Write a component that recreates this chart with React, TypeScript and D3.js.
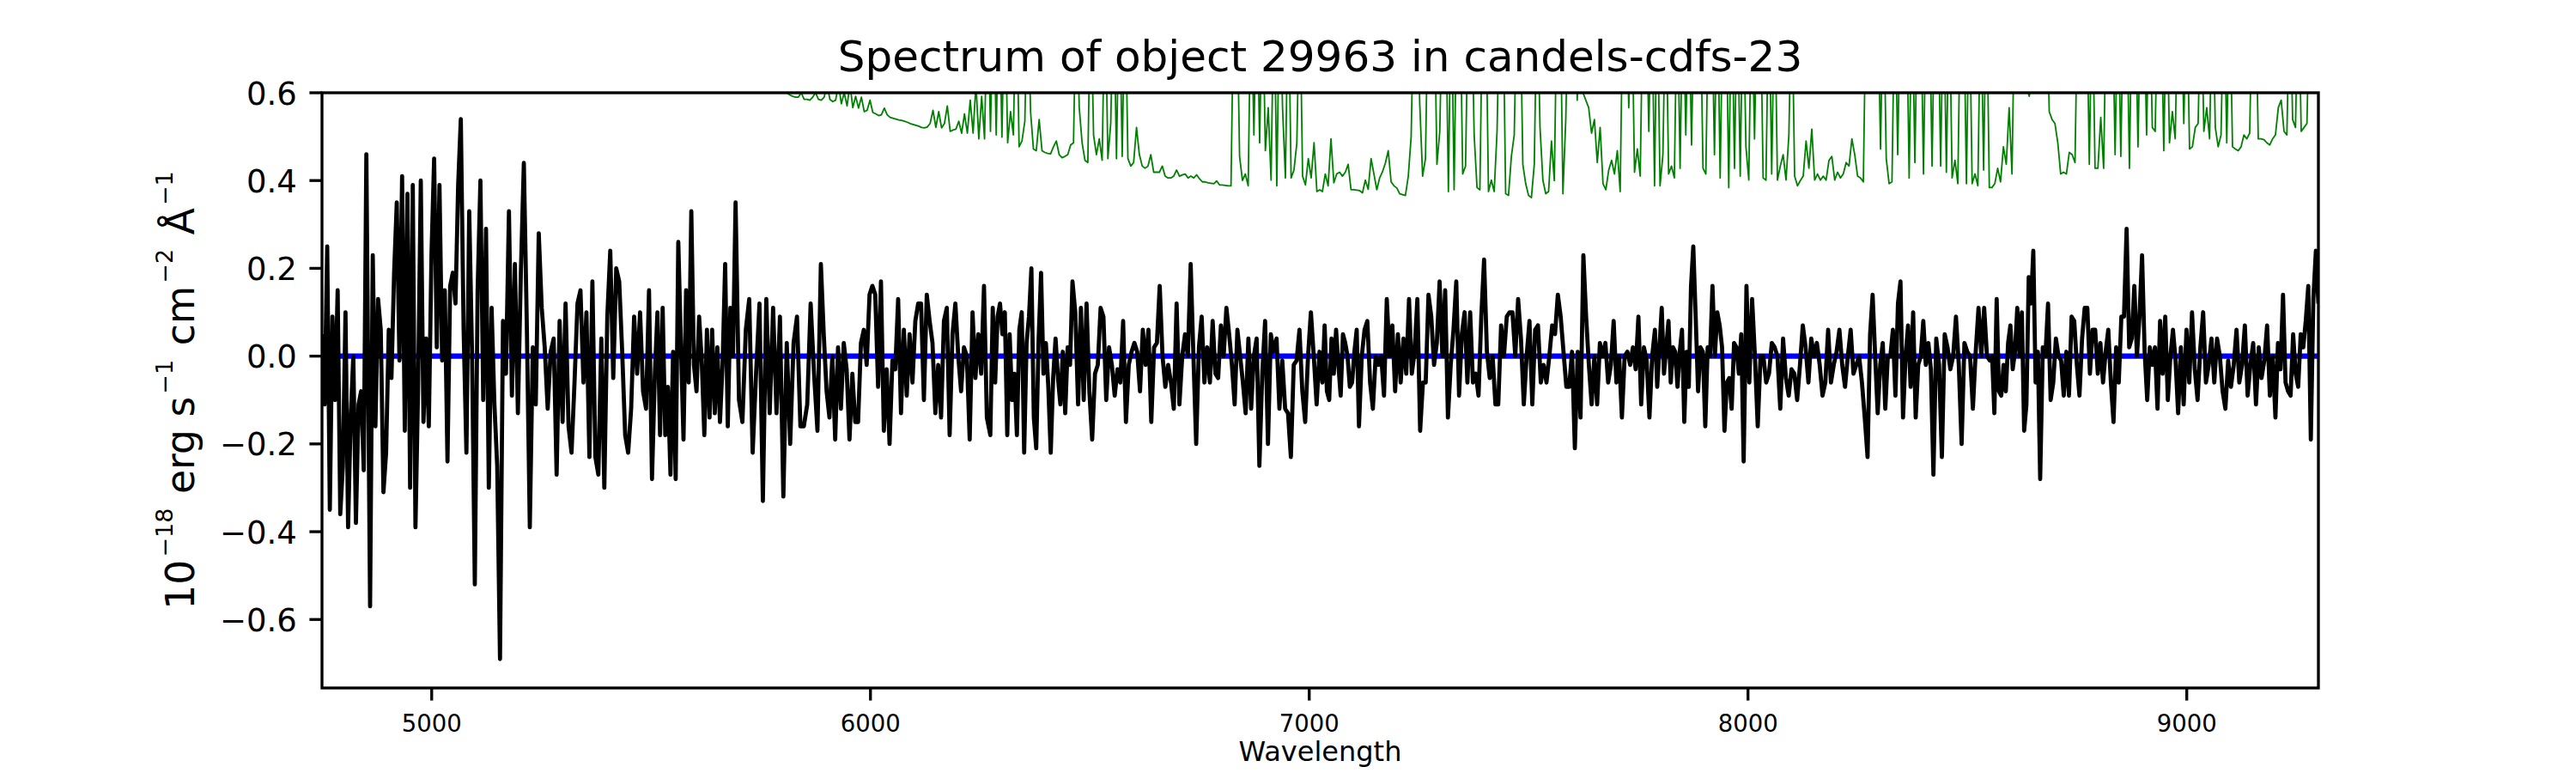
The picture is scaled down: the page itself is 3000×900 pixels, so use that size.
import React from 'react';
import * as d3 from 'd3';

// ---- Data (wavelength in Angstrom, flux in 1e-18 erg/s/cm2/A) ----
const chartTitle = 'Spectrum of object 29963 in candels-cdfs-23';
const xLabel = 'Wavelength';

const xTicks = [5000, 6000, 7000, 8000, 9000];
const yTicks = [-0.6, -0.4, -0.2, 0.0, 0.2, 0.4, 0.6];

const xDomain = [4750, 9300];
const yDomain = [-0.756, 0.6];

// Model continuum (blue)
const modelWave = [4750, 9300];
const modelFlux = [0, 0];

// Observed flux (black), read in wavelength chunks.
// Wavelength anchors per chunk: [sample index, wavelength] read at identifiable features.
const fluxKnots1 = [[0, 4750], [17, 4851.1], [18, 4859.6], [52, 5066.4], [66, 5155.7], [117, 5502.1]];
const fluxKnots2 = [[0, 5508.6], [31, 5692.6], [56, 5887.0], [114, 6265.3]];
const fluxKnots3 = [[0, 6273.2], [34, 6460.4], [76, 6729.8], [101, 6886.4], [122, 7023.4]];
const fluxKnots4 = [[0, 7029.9], [16, 7113.4], [61, 7398.5], [96, 7624.8], [122, 7787.9]];
const fluxKnots5 = [[0, 7793.1], [16, 7875.3], [37, 7990.1], [81, 8272.5], [107, 8422.6], [127, 8551.1]];
const fluxKnots6 = [[0, 8556.3], [21, 8665.9], [54, 8862.9], [74, 8980.3], [109, 9202.1], [126, 9300]];

const flux1 = [
  0.05, -0.11, 0.25, -0.35, 0.09, -0.10, 0.15, -0.36, -0.25, 0.10,
  -0.39, -0.14, 0.00, -0.38, -0.11, -0.08, -0.26, 0.46, -0.57, 0.23,
  -0.16, 0.13, 0.06, -0.31, -0.22, 0.06, -0.05, 0.19, 0.35, -0.01,
  0.41, -0.17, 0.37, -0.30, 0.39, -0.39, -0.07, 0.40, -0.15, 0.04,
  -0.16, 0.23, 0.45, 0.02, 0.39, -0.01, 0.15, -0.24, 0.16, 0.19,
  0.12, 0.39, 0.54, 0.06, -0.22, 0.33, 0.01, -0.52, 0.15, 0.40,
  -0.10, 0.29, -0.30, 0.11, -0.11, -0.25, -0.69, 0.08, -0.04, 0.33,
  -0.09, 0.21, -0.13, 0.19, 0.44, 0.07, -0.39, 0.02, -0.11, 0.28,
  0.11, 0.02, -0.12, 0.01, 0.04, -0.27, 0.08, -0.15, 0.12, -0.16,
  -0.22, -0.06, 0.12, 0.15, -0.06, 0.10, -0.23, 0.17, -0.23, -0.27,
  0.04, -0.30, 0.09, 0.24, -0.05, 0.20, 0.17, 0.01, -0.18, -0.22,
  -0.12, 0.09, -0.04, 0.10, -0.08, -0.12, 0.15, -0.28,
];

const flux2 = [
  -0.04, 0.10, -0.18, 0.11, -0.18, -0.07, -0.27, 0.01, -0.28, 0.26,
  0.03, -0.19, 0.15, -0.06, 0.33, -0.02, -0.08, 0.09, -0.01, -0.18,
  0.06, -0.14, 0.06, -0.13, 0.02, -0.15, -0.02, 0.21, -0.16, 0.11,
  0.00, 0.35, -0.10, -0.15, 0.06, 0.13, -0.22, -0.04, 0.12, -0.33,
  0.13, -0.13, 0.11, -0.13, 0.09, -0.32, 0.03, -0.20, 0.03, 0.09,
  -0.16, -0.16, -0.11, 0.12, -0.04, -0.17, 0.21, 0.05, -0.08, -0.14,
  0.00, -0.19, 0.02, -0.12, 0.03, -0.03, -0.19, -0.04, -0.15, -0.15,
  0.03, 0.06, -0.02, 0.14, 0.16, 0.14, -0.07, 0.17, -0.17, -0.03,
  -0.20, -0.01, -0.03, 0.13, -0.13, 0.06, -0.09, 0.05, -0.06, 0.08,
  0.12, 0.12, -0.10, 0.14, 0.08, 0.03, -0.13, -0.02, -0.14, 0.08,
  0.11, -0.18, 0.05, 0.12, 0.00, -0.08, 0.02, 0.00, -0.19, 0.10,
  -0.05, 0.05, -0.04, 0.16, -0.14,
];

const flux3 = [
  -0.18, 0.11, -0.06, 0.09, 0.12, 0.05, 0.10, -0.18, 0.05, -0.10,
  -0.04, -0.18, 0.06, 0.10, -0.22, 0.03, 0.09, 0.20, -0.14, -0.21,
  0.04, 0.19, -0.04, 0.03, -0.07, -0.22, -0.05, 0.04, -0.05, -0.11,
  0.01, -0.13, 0.02, -0.02, 0.17, 0.10, -0.11, 0.11, -0.10, 0.12,
  -0.08, -0.19, -0.04, -0.02, 0.11, 0.09, -0.10, 0.02, -0.02, -0.09,
  -0.03, -0.06, 0.08, -0.15, -0.02, 0.01, 0.03, 0.01, -0.08, 0.06,
  -0.02, 0.06, -0.15, 0.02, 0.03, 0.16, 0.00, -0.07, -0.02, -0.06,
  -0.12, 0.12, -0.11, 0.00, 0.05, 0.00, 0.21, 0.00, -0.20, 0.02,
  0.09, -0.06, 0.02, -0.06, 0.08, -0.04, -0.05, 0.07, 0.00, 0.11,
  0.05, -0.02, -0.11, 0.06, 0.00, -0.06, -0.13, 0.04, -0.12, 0.00,
  0.04, -0.25, -0.04, 0.08, -0.20, 0.05, 0.01, 0.04, -0.12, -0.01,
  -0.12, -0.13, -0.23, -0.02, -0.01, 0.06, -0.08, -0.15, 0.00, 0.10,
  0.00, -0.11, 0.01,
];

const flux4 = [
  -0.06, 0.07, -0.08, -0.10, 0.04, -0.04, 0.06, -0.02, -0.09, 0.05,
  0.03, 0.00, -0.07, -0.06, 0.01, 0.06, -0.16, 0.00, 0.06, 0.08,
  -0.06, -0.12, 0.00, -0.02, 0.00, -0.09, 0.13, 0.00, 0.07, -0.08,
  0.05, -0.06, 0.04, -0.04, 0.13, -0.04, 0.01, 0.13, -0.17, -0.06,
  -0.06, 0.14, 0.09, -0.02, 0.03, 0.17, 0.00, 0.15, -0.14, -0.02,
  0.06, 0.17, -0.09, 0.05, 0.10, -0.06, 0.10, -0.06, -0.04, -0.09,
  0.09, 0.22, 0.01, -0.05, 0.00, -0.11, -0.11, 0.07, 0.00, 0.09,
  0.10, 0.10, 0.00, 0.13, 0.04, -0.11, 0.00, 0.08, -0.11, 0.06,
  0.07, -0.06, -0.02, -0.06, 0.00, 0.07, 0.05, 0.14, 0.09, 0.01,
  -0.07, -0.07, 0.01, -0.21, 0.01, -0.14, 0.23, 0.09, -0.02, -0.11,
  0.00, -0.11, 0.03, 0.00, 0.03, -0.06, -0.02, 0.08, -0.06, 0.00,
  -0.14, 0.00, 0.01, -0.02, 0.02, -0.03, 0.09, -0.11, 0.02, -0.01,
  -0.14, 0.00, 0.06,
];

const flux5 = [
  -0.07, 0.02, 0.11, -0.04, 0.02, 0.08, -0.06, 0.02, 0.01, -0.07,
  0.01, 0.06, -0.15, 0.01, -0.07, 0.16, 0.25, 0.09, -0.08, 0.02,
  0.01, -0.16, 0.02, 0.00, 0.16, 0.00, 0.10, 0.07, 0.02, -0.17,
  -0.06, -0.05, -0.12, 0.03, 0.02, -0.04, 0.05, -0.24, 0.16, -0.06,
  0.13, 0.00, -0.16, 0.00, 0.00, -0.06, -0.04, 0.03, 0.02, 0.00,
  -0.12, 0.04, -0.05, -0.09, -0.03, -0.04, -0.10, -0.02, 0.07, 0.02,
  -0.06, 0.04, 0.00, 0.03, -0.02, -0.09, -0.06, 0.06, -0.06, -0.02,
  0.01, 0.06, -0.02, -0.07, 0.00, 0.06, -0.04, -0.02, 0.00, -0.06,
  -0.14, -0.23, 0.05, 0.14, 0.00, -0.13, -0.02, 0.03, -0.12, 0.00,
  0.00, 0.06, -0.09, 0.12, 0.17, -0.14, 0.00, 0.07, -0.07, 0.10,
  -0.14, -0.02, 0.00, 0.08, -0.02, 0.03, -0.03, -0.27, 0.04, -0.02,
  -0.23, 0.05, 0.02, -0.03, 0.00, 0.09, -0.02, -0.20, 0.03, 0.01,
  0.00, -0.12, 0.01, 0.11, 0.00, 0.11, 0.00, -0.01,
];

const flux6 = [
  0.00, -0.13, 0.13, -0.08, -0.09, -0.02, -0.08, 0.03, 0.07, -0.03,
  0.01, 0.11, 0.00, 0.10, -0.17, -0.11, 0.18, 0.12, 0.24, -0.06,
  0.01, -0.28, 0.02, 0.00, 0.12, -0.10, -0.06, 0.04, 0.00, -0.01,
  -0.09, 0.01, -0.09, 0.09, 0.08, -0.02, -0.09, 0.04, 0.11, 0.11,
  -0.04, 0.06, 0.06, -0.04, 0.03, -0.06, 0.01, 0.06, -0.06, -0.15,
  0.02, -0.06, 0.09, 0.09, 0.29, 0.02, 0.04, 0.16, 0.00, 0.09,
  0.23, 0.01, -0.10, 0.02, -0.02, 0.02, -0.12, 0.08, -0.04, 0.09,
  -0.10, 0.00, 0.06, -0.01, -0.13, 0.02, -0.11, 0.06, -0.06, 0.10,
  -0.03, -0.10, 0.02, 0.10, -0.06, -0.02, 0.04, -0.06, 0.04, 0.00,
  -0.08, -0.12, -0.01, -0.07, -0.02, 0.06, -0.06, -0.02, 0.07, -0.09,
  -0.02, 0.03, -0.11, 0.02, -0.05, -0.01, 0.07, -0.09, 0.00, -0.14,
  0.03, -0.03, 0.14, -0.06, -0.08, -0.09, 0.05, -0.04, -0.07, 0.05,
  0.02, 0.08, 0.16, -0.19, 0.13, 0.24, 0.12,
];

// Noise / sky spectrum (green), spikes run off the top of the axes
const errRanges = [
  [5777, 6260],
  [6267, 7024],
  [7030, 7787],
  [7793, 8550],
  [8556, 9300],
];

const err1 = [
  0.64, 0.63, 0.62, 0.61, 0.605, 0.60, 0.595, 0.592, 0.59, 0.59,
  0.60, 0.585, 0.585, 0.583, 0.59, 0.60, 0.585, 0.583, 0.59, 0.62,
  0.585, 0.58, 0.583, 0.62, 0.575, 0.60, 0.57, 0.62, 0.566, 0.592,
  0.565, 0.59, 0.557, 0.56, 0.583, 0.555, 0.552, 0.548, 0.55, 0.565,
  0.55, 0.544, 0.542, 0.54, 0.538, 0.537, 0.535, 0.533, 0.530, 0.528,
  0.526, 0.524, 0.521, 0.520, 0.522, 0.53, 0.56, 0.521, 0.557, 0.52,
  0.53, 0.57, 0.512, 0.515, 0.517, 0.535, 0.508, 0.552, 0.508, 0.583,
  0.508, 0.62, 0.495, 0.592, 0.495,
];

const err2 = [
  0.85, 0.512, 0.85, 0.504, 0.85, 0.499, 0.85, 0.486, 0.557, 0.504,
  0.85, 0.477, 0.49, 0.535, 0.85, 0.557, 0.472, 0.468, 0.539, 0.468,
  0.464, 0.462, 0.461, 0.477, 0.49, 0.459, 0.452, 0.455, 0.459, 0.481,
  0.486, 0.85, 0.566, 0.486, 0.446, 0.441, 0.85, 0.504, 0.459, 0.495,
  0.446, 0.85, 0.450, 0.53, 0.85, 0.450, 0.85, 0.455, 0.85, 0.450,
  0.433, 0.441, 0.521, 0.459, 0.433, 0.428, 0.433, 0.459, 0.419, 0.419,
  0.419, 0.433, 0.410, 0.406, 0.406, 0.410, 0.424, 0.410, 0.413, 0.415,
  0.406, 0.410, 0.406, 0.413, 0.404, 0.397, 0.397, 0.395, 0.394, 0.393,
  0.399, 0.390, 0.390, 0.389, 0.388, 0.388, 0.85, 0.85, 0.455, 0.40,
  0.415, 0.388, 0.85, 0.504, 0.85, 0.486, 0.85, 0.468, 0.566, 0.401,
  0.85, 0.388, 0.85, 0.566, 0.406, 0.85, 0.406, 0.424, 0.486, 0.85,
  0.410, 0.390, 0.45, 0.406, 0.486, 0.375, 0.379,
];

const err3 = [
  0.375, 0.415, 0.388, 0.495, 0.395, 0.415, 0.419, 0.410, 0.419, 0.437,
  0.379, 0.379, 0.378, 0.377, 0.372, 0.401, 0.38, 0.45, 0.415, 0.379,
  0.406, 0.42, 0.44, 0.468, 0.397, 0.388, 0.383, 0.370, 0.368, 0.366,
  0.41, 0.5, 0.85, 0.85, 0.575, 0.41, 0.45, 0.85, 0.85, 0.85,
  0.437, 0.512, 0.85, 0.85, 0.375, 0.85, 0.379, 0.85, 0.85, 0.415,
  0.433, 0.85, 0.85, 0.504, 0.384, 0.379, 0.85, 0.85, 0.375, 0.401,
  0.375, 0.512, 0.85, 0.85, 0.370, 0.366, 0.455, 0.504, 0.85, 0.85,
  0.437, 0.393, 0.366, 0.361, 0.437, 0.85, 0.521, 0.401, 0.370, 0.375,
  0.490, 0.400, 0.85, 0.85, 0.370, 0.539, 0.85, 0.85, 0.85, 0.583,
  0.85, 0.60, 0.583, 0.566, 0.508, 0.539, 0.441, 0.521, 0.393, 0.379,
  0.424, 0.446, 0.415, 0.468, 0.375, 0.85, 0.85, 0.566, 0.85, 0.419,
  0.472, 0.410, 0.85, 0.85, 0.512, 0.85, 0.388,
];

const err4 = [
  0.85, 0.388, 0.459, 0.85, 0.415, 0.433, 0.406, 0.85, 0.428, 0.85,
  0.504, 0.85, 0.481, 0.85, 0.85, 0.85, 0.428, 0.415, 0.85, 0.85,
  0.459, 0.85, 0.406, 0.85, 0.85, 0.384, 0.85, 0.428, 0.85, 0.410,
  0.85, 0.477, 0.401, 0.85, 0.495, 0.85, 0.85, 0.406, 0.401, 0.85,
  0.415, 0.85, 0.401, 0.433, 0.459, 0.401, 0.504, 0.85, 0.410, 0.388,
  0.40, 0.410, 0.490, 0.428, 0.517, 0.401, 0.415, 0.401, 0.410, 0.401,
  0.446, 0.455, 0.401, 0.419, 0.406, 0.415, 0.441, 0.433, 0.495, 0.459,
  0.410, 0.406, 0.397, 0.85, 0.85, 0.85, 0.85, 0.85, 0.472, 0.85,
  0.450, 0.393, 0.397, 0.85, 0.459, 0.85, 0.85, 0.85, 0.406, 0.85,
  0.441, 0.85, 0.85, 0.415, 0.85, 0.85, 0.433, 0.85, 0.85, 0.433,
  0.85, 0.419, 0.85, 0.406, 0.446, 0.393, 0.85, 0.85, 0.393, 0.85,
  0.393, 0.415, 0.388, 0.85, 0.424, 0.85, 0.384,
];

const err5 = [
  0.384, 0.393, 0.428, 0.397, 0.477, 0.437, 0.566, 0.415, 0.85, 0.85,
  0.85, 0.85, 0.62, 0.592, 0.62, 0.85, 0.85, 0.85, 0.85, 0.85,
  0.557, 0.539, 0.530, 0.486, 0.415, 0.419, 0.415, 0.464, 0.459, 0.441,
  0.85, 0.85, 0.85, 0.85, 0.437, 0.85, 0.428, 0.428, 0.544, 0.428,
  0.85, 0.85, 0.85, 0.459, 0.85, 0.455, 0.85, 0.85, 0.428, 0.85,
  0.85, 0.477, 0.85, 0.85, 0.504, 0.85, 0.521, 0.512, 0.85, 0.85,
  0.468, 0.85, 0.486, 0.557, 0.495, 0.85, 0.85, 0.530, 0.85, 0.472,
  0.477, 0.521, 0.530, 0.85, 0.512, 0.566, 0.495, 0.85, 0.521, 0.477,
  0.504, 0.85, 0.486, 0.85, 0.477, 0.472, 0.468, 0.477, 0.504, 0.495,
  0.508, 0.85, 0.85, 0.495, 0.495, 0.493, 0.486, 0.481, 0.495, 0.504,
  0.566, 0.583, 0.512, 0.504, 0.85, 0.539, 0.521, 0.85, 0.512, 0.521,
  0.530, 0.85, 0.85, 0.60, 0.85,
];

const fluxSegments = [flux1, flux2, flux3, flux4, flux5, flux6];
const fluxKnots = [fluxKnots1, fluxKnots2, fluxKnots3, fluxKnots4, fluxKnots5, fluxKnots6];
const errSegments = [err1, err2, err3, err4, err5];

type Pt = { w: number; v: number };

// wavelength of each sample from the anchor table (piecewise linear in index)
function withKnots(values: number[], knots: number[][]): Pt[] {
  const idxToWave = d3
    .scaleLinear()
    .domain(knots.map((k) => k[0]))
    .range(knots.map((k) => k[1]));
  return values.map((v, i) => ({ w: idxToWave(i), v }));
}

function spread(values: number[], range: number[]): Pt[] {
  const [a, b] = range;
  const n = values.length;
  return values.map((v, i) => ({ w: a + ((b - a) * i) / (n - 1), v }));
}

const FONT = 'DejaVu Sans';

export default function App() {
  const W = 3000;
  const H = 900;
  const L = 375;
  const R = 2700;
  const T = 108;
  const B = 801;

  const x = d3.scaleLinear().domain(xDomain).range([L, R]);
  const y = d3.scaleLinear().domain(yDomain).range([B, T]);
  const fmt = d3.format('.1f');

  const line = d3
    .line<Pt>()
    .x((d) => x(d.w))
    .y((d) => y(d.v));

  const fluxPts = fluxSegments.flatMap((s, i) => withKnots(s, fluxKnots[i]));
  const errPts = errSegments.flatMap((s, i) => spread(s, errRanges[i]));
  const modelPts = modelWave.map((w, i) => ({ w, v: modelFlux[i] }));

  const tickLen = 14.6;
  const spineW = 3.33;
  const supSize = 27;
  const supShift = 25;

  return (
    <svg
      width={W}
      height={H}
      viewBox={`0 0 ${W} ${H}`}
      style={{ position: 'absolute', left: 0, top: 0, background: '#ffffff' }}
    >
      <rect x={0} y={0} width={W} height={H} fill="#ffffff" />
      <defs>
        <clipPath id="plotClip">
          <rect x={L} y={T} width={R - L} height={B - T} />
        </clipPath>
      </defs>

      <g clipPath="url(#plotClip)">
        <path d={line(modelPts) || ''} fill="none" stroke="#0000ff" strokeWidth={6.25} />
        <path
          d={line(fluxPts) || ''}
          fill="none"
          stroke="#000000"
          strokeWidth={4.8}
          strokeLinejoin="round"
        />
        <path
          d={line(errPts) || ''}
          fill="none"
          stroke="#008000"
          strokeWidth={1.8}
          strokeLinejoin="round"
        />
      </g>

      {/* spines */}
      <rect x={L} y={T} width={R - L} height={B - T} fill="none" stroke="#000" strokeWidth={spineW} />

      {/* x ticks */}
      {xTicks.map((t) => (
        <g key={`xt${t}`}>
          <line x1={x(t)} x2={x(t)} y1={B} y2={B + tickLen} stroke="#000" strokeWidth={spineW} />
          <text x={x(t)} y={852} textAnchor="middle" fontFamily={FONT} fontSize={27.5} fill="#000">
            {String(t)}
          </text>
        </g>
      ))}

      {/* y ticks */}
      {yTicks.map((t) => (
        <g key={`yt${t}`}>
          <line x1={L - tickLen} x2={L} y1={y(t)} y2={y(t)} stroke="#000" strokeWidth={spineW} />
          <text
            x={L - tickLen - 14.6}
            y={y(t) + 13.5}
            textAnchor="end"
            fontFamily={FONT}
            fontSize={37}
            fill="#000"
          >
            {fmt(t)}
          </text>
        </g>
      ))}

      {/* title */}
      <text x={(L + R) / 2} y={83} textAnchor="middle" fontFamily={FONT} fontSize={50} fill="#000">
        {chartTitle}
      </text>

      {/* x label */}
      <text x={(L + R) / 2} y={886} textAnchor="middle" fontFamily={FONT} fontSize={32} fill="#000">
        {xLabel}
      </text>

      {/* y label */}
      <text
        transform={`translate(225.5, ${(T + B) / 2}) rotate(-90)`}
        textAnchor="middle"
        fontFamily={FONT}
        fontSize={45.7}
        fill="#000"
      >
        <tspan>10</tspan>
        <tspan dx={3} dy={-supShift} fontSize={supSize}>{'\u221218'}</tspan>
        <tspan dx={2} dy={supShift}>{' erg s'}</tspan>
        <tspan dx={3} dy={-supShift} fontSize={supSize}>{'\u22121'}</tspan>
        <tspan dx={2} dy={supShift}>{' cm'}</tspan>
        <tspan dx={3} dy={-supShift} fontSize={supSize}>{'\u22122'}</tspan>
        <tspan dx={2} dy={supShift}>{' \u00C5'}</tspan>
        <tspan dx={3} dy={-supShift} fontSize={supSize}>{'\u22121'}</tspan>
      </text>
    </svg>
  );
}
